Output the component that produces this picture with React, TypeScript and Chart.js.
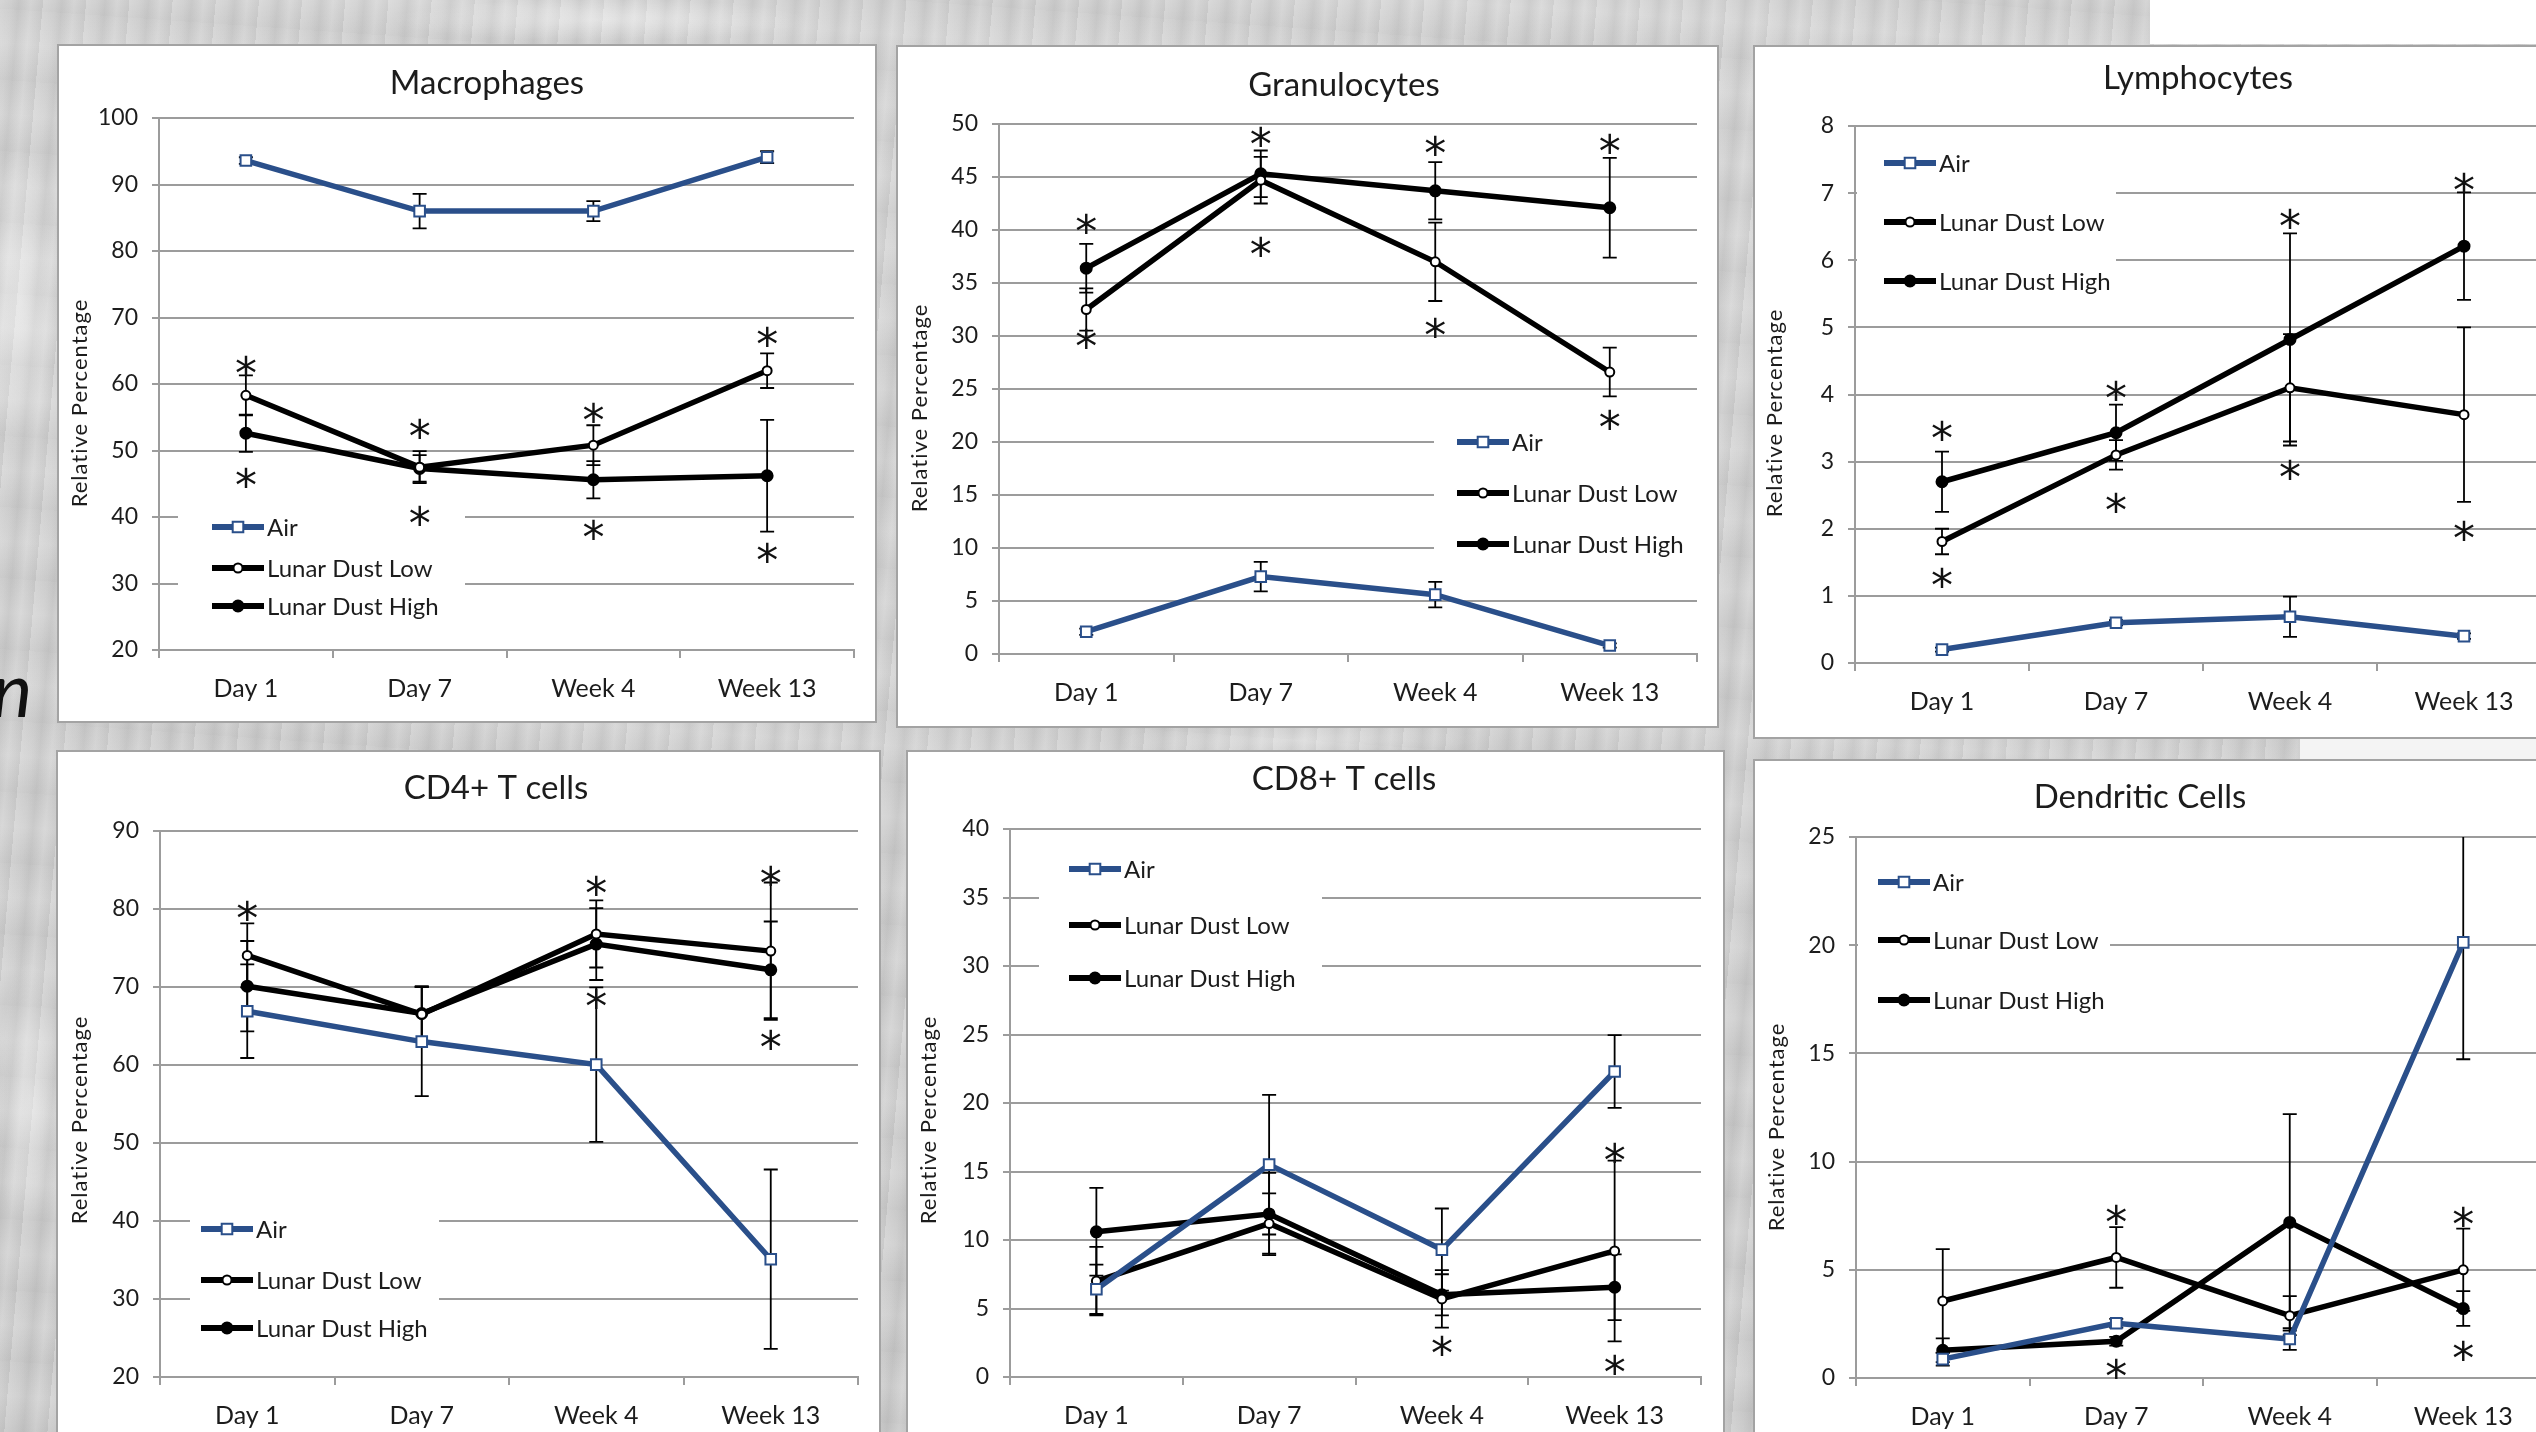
import React, { useEffect, useRef } from 'react';
import { Chart, registerables } from 'chart.js';

Chart.register(...registerables);

// ---------------- data ----------------
const categories = ['Day 1', 'Day 7', 'Week 4', 'Week 13'];
const seriesNames = ['Air', 'Lunar Dust Low', 'Lunar Dust High'];
const axisTitle = 'Relative Percentage';

// Macrophages
const macroAir = [93.6, 86.0, 86.0, 94.1];
const macroAirErr = [0.5, 2.6, 1.5, 0.9];
const macroLow = [58.3, 47.5, 50.8, 62.0];
const macroLowErr = [3.0, 2.4, 3.0, 2.6];
const macroHigh = [52.6, 47.3, 45.6, 46.2];
const macroHighErr = [2.8, 2.0, 2.8, 8.4];
const macroStars = [[0, 63.2], [0, 46.4], [1, 53.7], [1, 40.7], [2, 56.1], [2, 38.6], [3, 67.6], [3, 35.1]];
const macroAxis = [20, 100, 10];

// Granulocytes
const granAir = [2.1, 7.3, 5.6, 0.8];
const granAirErr = [0.3, 1.4, 1.2, 0.2];
const granLow = [32.5, 44.7, 37.0, 26.6];
const granLowErr = [2.0, 2.2, 3.7, 2.3];
const granHigh = [36.4, 45.3, 43.7, 42.1];
const granHighErr = [2.3, 2.2, 2.7, 4.7];
const granStars = [[0, 40.9], [0, 30.0], [1, 49.1], [1, 38.7], [2, 48.2], [2, 31.1], [3, 48.4], [3, 22.4]];
const granAxis = [0, 50, 5];

// Lymphocytes
const lymphAir = [0.2, 0.6, 0.69, 0.4];
const lymphAirErr = [0.03, 0.04, 0.3, 0.04];
const lymphLow = [1.81, 3.1, 4.1, 3.7];
const lymphLowErr = [0.19, 0.22, 0.8, 1.3];
const lymphHigh = [2.7, 3.43, 4.82, 6.21];
const lymphHighErr = [0.45, 0.42, 1.58, 0.8];
const lymphStars = [[0, 3.5], [0, 1.31], [1, 4.1], [1, 2.44], [2, 6.66], [2, 2.92], [3, 7.2], [3, 2.02]];
const lymphAxis = [0, 8, 1];

// CD4+ T cells
const cd4Air = [66.9, 63.0, 60.05, 35.1];
const cd4AirErr = [6.0, 7.0, 9.9, 11.5];
const cd4Low = [74.05, 66.5, 76.8, 74.6];
const cd4LowErr = [4.1, 3.5, 4.3, 8.8];
const cd4High = [70.1, 66.6, 75.5, 72.2];
const cd4HighErr = [5.8, 3.5, 4.6, 6.2];
const cd4Stars = [[0, 80.2], [2, 83.4], [2, 68.9], [3, 84.7], [3, 63.7]];
const cd4Axis = [20, 90, 10];

// CD8+ T cells
const cd8Air = [6.4, 15.5, 9.3, 22.3];
const cd8AirErr = [1.8, 5.1, 3.0, 2.65];
const cd8Low = [7.0, 11.2, 5.7, 9.2];
const cd8LowErr = [2.5, 2.2, 2.1, 6.6];
const cd8High = [10.6, 11.9, 6.0, 6.55];
const cd8HighErr = [3.2, 3.0, 1.5, 2.4];
const cd8Stars = [[2, 2.5], [3, 16.6], [3, 1.1]];
const cd8Axis = [0, 40, 5];

// Dendritic Cells
const dcAir = [0.87, 2.53, 1.8, 20.13];
const dcAirErr = [0.3, 0.2, 0.5, 5.4];
const dcLow = [3.56, 5.57, 2.88, 5.0];
const dcLowErr = [2.4, 1.4, 0.9, 1.9];
const dcHigh = [1.28, 1.7, 7.19, 3.21];
const dcHighErr = [0.55, 0.2, 5.0, 0.8];
const dcStars = [[1, 7.7], [1, 0.56], [3, 7.6], [3, 1.39]];
const dcAxis = [0, 25, 5];

// ---------------- styles / layout ----------------
const AIR_COLOR = '#2a4f8a';
const FONT = 'Lato, "Open Sans", sans-serif';
const GRID = '#9c9c9c';
const TEXT = '#1c1c1c';
const LINE_W = 5.5;

type Layout = {
  box: number[]; // page left, top, width, height
  plot: number[]; // page left, right, top, bottom
  titlePos: number[];
  yTitlePos: number[];
  legendX: number;
  legendRows: number[];
  legendBox: number[]; // x1, y1, x2, y2
};

type Spec = {
  title: string;
  values: number[][];
  errors: number[][];
  stars: number[][];
  axis: number[];
  layout: Layout;
};

const specs: Spec[] = [
  {
    title: 'Macrophages',
    values: [macroAir, macroLow, macroHigh],
    errors: [macroAirErr, macroLowErr, macroHighErr],
    stars: macroStars,
    axis: macroAxis,
    layout: {
      box: [57, 44, 820, 679], plot: [159, 854, 118, 650], titlePos: [487, 83], yTitlePos: [80, 403],
      legendX: 212, legendRows: [527, 568, 606], legendBox: [178, 500, 465, 630],
    },
  },
  {
    title: 'Granulocytes',
    values: [granAir, granLow, granHigh],
    errors: [granAirErr, granLowErr, granHighErr],
    stars: granStars,
    axis: granAxis,
    layout: {
      box: [896, 45, 823, 683], plot: [999, 1697, 124, 654], titlePos: [1344, 85], yTitlePos: [920, 408],
      legendX: 1457, legendRows: [442, 493, 544], legendBox: [1434, 425, 1698, 562],
    },
  },
  {
    title: 'Lymphocytes',
    values: [lymphAir, lymphLow, lymphHigh],
    errors: [lymphAirErr, lymphLowErr, lymphHighErr],
    stars: lymphStars,
    axis: lymphAxis,
    layout: {
      box: [1753, 45, 860, 694], plot: [1855, 2551, 126, 663], titlePos: [2198, 78], yTitlePos: [1775, 413],
      legendX: 1884, legendRows: [163, 222, 281], legendBox: [1857, 135, 2116, 300],
    },
  },
  {
    title: 'CD4+ T cells',
    values: [cd4Air, cd4Low, cd4High],
    errors: [cd4AirErr, cd4LowErr, cd4HighErr],
    stars: cd4Stars,
    axis: cd4Axis,
    layout: {
      box: [56, 750, 825, 700], plot: [160, 858, 831, 1377], titlePos: [496, 788], yTitlePos: [80, 1120],
      legendX: 201, legendRows: [1229, 1280, 1328], legendBox: [190, 1208, 439, 1345],
    },
  },
  {
    title: 'CD8+ T cells',
    values: [cd8Air, cd8Low, cd8High],
    errors: [cd8AirErr, cd8LowErr, cd8HighErr],
    stars: cd8Stars,
    axis: cd8Axis,
    layout: {
      box: [906, 750, 819, 700], plot: [1010, 1701, 829, 1377], titlePos: [1344, 779], yTitlePos: [929, 1120],
      legendX: 1069, legendRows: [869, 925, 978], legendBox: [1039, 850, 1322, 995],
    },
  },
  {
    title: 'Dendritic Cells',
    values: [dcAir, dcLow, dcHigh],
    errors: [dcAirErr, dcLowErr, dcHighErr],
    stars: dcStars,
    axis: dcAxis,
    layout: {
      box: [1753, 759, 860, 700], plot: [1856, 2550, 837, 1378], titlePos: [2140, 797], yTitlePos: [1777, 1127],
      legendX: 1878, legendRows: [882, 940, 1000], legendBox: [1858, 860, 2110, 1020],
    },
  },
];

const seriesColors = [AIR_COLOR, '#000000', '#000000'];
const seriesStyles = ['rect', 'circle', 'circle'];
const seriesFill = ['#ffffff', '#ffffff', '#000000'];
const seriesRadius = [7.5, 4.5, 5.5];

function drawMarker(ctx: CanvasRenderingContext2D, i: number, x: number, y: number) {
  ctx.save();
  ctx.lineWidth = 2;
  ctx.strokeStyle = seriesColors[i];
  ctx.fillStyle = seriesFill[i];
  ctx.beginPath();
  if (seriesStyles[i] === 'rect') {
    const s = seriesRadius[i] * Math.SQRT1_2;
    ctx.rect(x - s, y - s, 2 * s, 2 * s);
  } else {
    ctx.arc(x, y, seriesRadius[i], 0, Math.PI * 2);
  }
  ctx.fill();
  ctx.stroke();
  ctx.restore();
}

const decorPlugin = {
  id: 'decor',
  beforeDatasetsDraw(chart: any, _args: any, opts: any) {
    const spec: Spec = opts.spec;
    const L = spec.layout;
    const ox = L.box[0];
    const oy = L.box[1];
    const ctx: CanvasRenderingContext2D = chart.ctx;
    // white legend background covering gridlines
    const [x1, y1, x2, y2] = L.legendBox;
    ctx.save();
    ctx.fillStyle = '#ffffff';
    ctx.fillRect(x1 - ox, y1 - oy, x2 - x1, y2 - y1);
    ctx.restore();
    // legend entries
    ctx.save();
    seriesNames.forEach((name, i) => {
      const y = L.legendRows[i] - oy;
      const x = L.legendX - ox;
      ctx.strokeStyle = seriesColors[i];
      ctx.lineWidth = 6;
      ctx.beginPath();
      ctx.moveTo(x, y);
      ctx.lineTo(x + 52, y);
      ctx.stroke();
      drawMarker(ctx, i, x + 26, y);
      ctx.fillStyle = TEXT;
      ctx.font = `24px ${FONT}`;
      ctx.textAlign = 'left';
      ctx.textBaseline = 'middle';
      ctx.fillText(name, x + 55, y + 1);
    });
    ctx.restore();
    // error bars
    const xs = chart.scales.x;
    const ys = chart.scales.y;
    const area = chart.chartArea;
    ctx.save();
    ctx.beginPath();
    ctx.rect(area.left - 30, area.top, area.right - area.left + 60, area.bottom - area.top);
    ctx.clip();
    ctx.strokeStyle = '#000000';
    ctx.lineWidth = 1.8;
    spec.values.forEach((vals, i) => {
      vals.forEach((v, j) => {
        const e = spec.errors[i][j];
        const x = xs.getPixelForValue(j);
        const yt = ys.getPixelForValue(v + e);
        const yb = ys.getPixelForValue(v - e);
        ctx.beginPath();
        ctx.moveTo(x, yt);
        ctx.lineTo(x, yb);
        ctx.moveTo(x - 7, yt);
        ctx.lineTo(x + 7, yt);
        ctx.moveTo(x - 7, yb);
        ctx.lineTo(x + 7, yb);
        ctx.stroke();
      });
    });
    ctx.restore();
  },
  afterDatasetsDraw(chart: any, _args: any, opts: any) {
    const spec: Spec = opts.spec;
    const L = spec.layout;
    const ox = L.box[0];
    const oy = L.box[1];
    const ctx: CanvasRenderingContext2D = chart.ctx;
    const xs = chart.scales.x;
    const ys = chart.scales.y;
    // significance asterisks
    ctx.save();
    ctx.fillStyle = '#111111';
    const sz = 44;
    ctx.font = `${sz}px "DejaVu Sans", sans-serif`;
    ctx.textAlign = 'center';
    ctx.textBaseline = 'alphabetic';
    spec.stars.forEach(([c, v]) => {
      const x = xs.getPixelForValue(c);
      const y = ys.getPixelForValue(v);
      ctx.fillText('*', x, y + sz * 0.6);
    });
    ctx.restore();
    // title
    ctx.save();
    ctx.fillStyle = TEXT;
    ctx.font = `33px ${FONT}`;
    ctx.textAlign = 'center';
    ctx.textBaseline = 'middle';
    ctx.fillText(spec.title, L.titlePos[0] - ox, L.titlePos[1] - oy);
    ctx.restore();
    // y axis title
    ctx.save();
    ctx.fillStyle = TEXT;
    ctx.font = `22px ${FONT}`;
    (ctx as any).letterSpacing = '1px';
    ctx.translate(L.yTitlePos[0] - ox, L.yTitlePos[1] - oy);
    ctx.rotate(-Math.PI / 2);
    ctx.textAlign = 'center';
    ctx.textBaseline = 'middle';
    ctx.fillText(axisTitle, 0, 0);
    ctx.restore();
  },
};

function Panel({ spec }: { spec: Spec }) {
  const ref = useRef<HTMLCanvasElement>(null);
  const [L, T, W, H] = spec.layout.box;
  const [pl, pr, pt, pb] = spec.layout.plot;
  useEffect(() => {
    const canvas = ref.current;
    if (!canvas) return;
    const yw = pl - L;
    const xh = T + H - pb;
    const chart = new Chart(canvas, {
      type: 'line',
      data: {
        labels: categories,
        datasets: spec.values.map((vals, i) => ({
          label: seriesNames[i],
          data: vals,
          borderColor: seriesColors[i],
          backgroundColor: seriesFill[i],
          borderWidth: LINE_W,
          tension: 0,
          pointStyle: seriesStyles[i] as any,
          pointRadius: seriesRadius[i],
          pointBorderWidth: 2,
          pointBackgroundColor: seriesFill[i],
          pointBorderColor: seriesColors[i],
          clip: false as any,
        })),
      },
      options: {
        animation: false,
        responsive: false,
        devicePixelRatio: 1,
        layout: { padding: { top: pt - T, right: L + W - pr, left: 0, bottom: 0 } },
        plugins: {
          legend: { display: false },
          title: { display: false },
          tooltip: { enabled: false },
          decor: { spec },
        } as any,
        scales: {
          x: {
            type: 'category',
            offset: true,
            grid: {
              display: true,
              drawOnChartArea: false,
              drawTicks: true,
              tickLength: 8,
              offset: true,
              color: GRID,
              lineWidth: 2,
            },
            border: { display: true, color: GRID, width: 2 },
            ticks: { font: { family: FONT, size: 25 }, color: TEXT, padding: 16, maxRotation: 0, autoSkip: false },
            afterFit: (s: any) => {
              s.height = xh;
            },
          },
          y: {
            min: spec.axis[0],
            max: spec.axis[1],
            ticks: { stepSize: spec.axis[2], font: { family: FONT, size: 23 }, color: TEXT, padding: 14 },
            grid: { color: GRID, lineWidth: 2, tickLength: 7, drawTicks: true },
            border: { display: true, color: GRID, width: 2 },
            afterFit: (s: any) => {
              s.width = yw;
            },
          },
        },
      },
      plugins: [decorPlugin],
    } as any);
    return () => chart.destroy();
  }, []);
  return (
    <div
      style={{
        position: 'absolute',
        left: L,
        top: T,
        width: W,
        height: H,
        background: '#ffffff',
        boxSizing: 'border-box',
        border: '2px solid #a3a3a3',
      }}
    >
      <canvas ref={ref} width={W} height={H} style={{ position: 'absolute', left: -2, top: -2, width: W, height: H }} />
    </div>
  );
}

export default function App() {
  const texture =
    'radial-gradient(ellipse 60px 220px at 20px 300px, rgba(255,255,255,0.45), rgba(255,255,255,0) 70%), ' +
    'radial-gradient(ellipse 50px 200px at 30px 1100px, rgba(255,255,255,0.4), rgba(255,255,255,0) 70%), ' +
    'radial-gradient(ellipse 300px 30px at 600px 20px, rgba(255,255,255,0.35), rgba(255,255,255,0) 70%), ' +
    'radial-gradient(ellipse 260px 25px at 1300px 740px, rgba(255,255,255,0.35), rgba(255,255,255,0) 70%), ' +
    'repeating-linear-gradient(95deg, rgba(255,255,255,0.16) 0px, rgba(255,255,255,0.02) 11px, rgba(0,0,0,0.04) 19px, rgba(255,255,255,0.12) 31px, rgba(0,0,0,0.03) 43px), ' +
    'repeating-linear-gradient(4deg, rgba(0,0,0,0.03) 0px, rgba(255,255,255,0.1) 37px, rgba(0,0,0,0.02) 71px), ' +
    'linear-gradient(180deg, #d2d2d2, #cbcbcb)';
  return (
    <div
      style={{
        position: 'absolute',
        left: 0,
        top: 0,
        width: 2536,
        height: 1432,
        overflow: 'hidden',
        background: texture,
        fontFamily: FONT,
      }}
    >
      <div style={{ position: 'absolute', left: 2150, top: 0, width: 400, height: 44, background: '#ffffff' }} />
      <div style={{ position: 'absolute', left: 2300, top: 739, width: 300, height: 20, background: '#f4f4f4' }} />
      <div
        style={{
          position: 'absolute',
          left: -8,
          top: 650,
          fontSize: 76,
          fontStyle: 'italic',
          lineHeight: 1,
          color: '#111',
          fontFamily: FONT,
        }}
      >
        n
      </div>
      {specs.map((s) => (
        <Panel key={s.title} spec={s} />
      ))}
    </div>
  );
}
